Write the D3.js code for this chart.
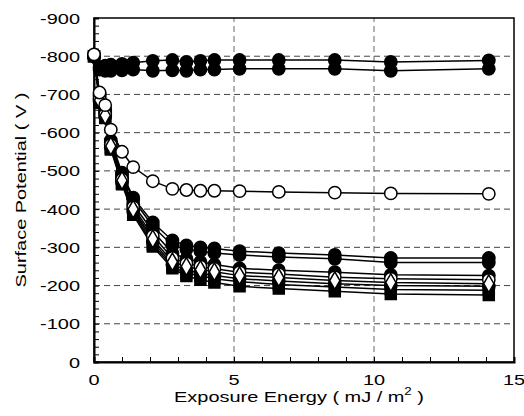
<!DOCTYPE html>
<html>
<head>
<meta charset="utf-8">
<script src="https://cdn.jsdelivr.net/npm/d3@7"></script>
<style>
body { margin: 0; background: #fff; }
text { font-family: "Liberation Sans", Arial, sans-serif; }
</style>
</head>
<body>
<svg id="chart"></svg>
<script>
// exposure energy (mJ/m2), shared by all series
var energy = [0, 0.2, 0.4, 0.6, 1.0, 1.4, 2.1, 2.8, 3.3, 3.8, 4.3, 5.2, 6.6, 8.6, 10.6, 14.1];

var seriesTopA = [-800, -772, -775, -778, -780, -783, -788, -790, -785, -788, -790, -790, -790, -790, -785, -789];
var seriesTopB = [-800, -765, -762, -762, -763, -765, -762, -763, -762, -765, -765, -767, -767, -767, -762, -767];
var seriesOpen = [-805, -705, -672, -608, -550, -510, -473, -453, -450, -448, -448, -447, -445, -443, -441, -440];
var seriesC1 = [-800, -700, -660, -580, -495, -430, -365, -318, -305, -300, -297, -290, -285, -280, -272, -272];
var seriesC2 = [-800, -695, -655, -575, -490, -425, -355, -305, -295, -290, -285, -280, -275, -270, -260, -260];
var seriesC3 = [-800, -690, -650, -570, -482, -412, -342, -285, -270, -262, -255, -245, -240, -235, -228, -226];
var seriesC4 = [-800, -688, -648, -568, -478, -405, -330, -272, -258, -250, -244, -235, -230, -222, -218, -215];
var seriesC5 = [-800, -685, -645, -565, -475, -400, -322, -262, -250, -242, -236, -226, -221, -213, -208, -205];
var seriesC6 = [-800, -682, -642, -562, -470, -395, -315, -255, -240, -233, -226, -218, -212, -205, -200, -198];
var seriesC7 = [-800, -680, -640, -560, -468, -390, -308, -250, -232, -225, -218, -210, -203, -196, -190, -188];
var seriesC8 = [-800, -678, -638, -556, -465, -385, -302, -245, -225, -215, -208, -198, -192, -185, -178, -175];

var xTicks = [0, 5, 10, 15];
var yTicks = [0, -100, -200, -300, -400, -500, -600, -700, -800, -900];

// drawing order: bottom markers first
var seriesList = [
    {values: seriesC8, marker: "square", fill: "black"},
    {values: seriesC7, marker: "square", fill: "black"},
    {values: seriesC6, marker: "circle", fill: "black"},
    {values: seriesC3, marker: "circle", fill: "black"},
    {values: seriesC2, marker: "circle", fill: "black"},
    {values: seriesC1, marker: "circle", fill: "black"},
    {values: seriesC4, marker: "circle", fill: "white"},
    {values: seriesC5, marker: "diamond", fill: "white"},
    {values: seriesTopB, marker: "circle", fill: "black"},
    {values: seriesTopA, marker: "circle", fill: "black"},
    {values: seriesOpen, marker: "circle", fill: "white"}
];

var width = 524;
var height = 416;
var margin = {left: 94, right: 10, top: 18, bottom: 54};
var stretch = 1.33;   // the original text is drawn wider than Arial

var svg = d3.select("#chart")
    .attr("width", width)
    .attr("height", height);

var xScale = d3.scaleLinear()
    .domain([0, 15])
    .range([margin.left, width - margin.right]);
var yScale = d3.scaleLinear()
    .domain([0, -900])
    .range([height - margin.bottom, margin.top]);

// grid
svg.selectAll(".hgrid")
    .data(yTicks.filter(function(d) { return d != 0 && d != -900; }))
    .enter()
    .append("line")
    .attr("x1", xScale(0))
    .attr("x2", xScale(15))
    .attr("y1", function(d) { return yScale(d); })
    .attr("y2", function(d) { return yScale(d); })
    .attr("stroke", "#444")
    .attr("stroke-dasharray", "6,4");
svg.selectAll(".vgrid")
    .data([5, 10])
    .enter()
    .append("line")
    .attr("x1", function(d) { return xScale(d); })
    .attr("x2", function(d) { return xScale(d); })
    .attr("y1", yScale(0))
    .attr("y2", yScale(-900))
    .attr("stroke", "#666")
    .attr("stroke-dasharray", "6,4");

// frame
svg.append("rect")
    .attr("x", xScale(0))
    .attr("y", yScale(-900))
    .attr("width", xScale(15) - xScale(0))
    .attr("height", yScale(0) - yScale(-900))
    .attr("fill", "none")
    .attr("stroke", "black")
    .attr("stroke-width", 1.5);

// axes with inner ticks
var yAxis = d3.axisLeft(yScale)
    .tickValues(d3.range(0, -901, -20))
    .tickSize(-5)
    .tickFormat("");
svg.append("g")
    .attr("transform", "translate(" + xScale(0) + ",0)")
    .call(yAxis)
    .call(function(g) { g.select(".domain").attr("stroke-width", 2); });

var xAxis = d3.axisBottom(xScale)
    .tickValues(d3.range(0, 15.1, 1))
    .tickSize(-5)
    .tickFormat("");
svg.append("g")
    .attr("transform", "translate(0," + yScale(0) + ")")
    .call(xAxis)
    .call(function(g) { g.select(".domain").attr("stroke-width", 2); });

// tick labels
svg.selectAll(".ylab")
    .data(yTicks)
    .enter()
    .append("text")
    .attr("transform", function(d) { return "translate(80," + (yScale(d) + 5.5) + ") scale(" + stretch + ",1)"; })
    .attr("text-anchor", "end")
    .attr("font-size", 15)
    .text(function(d) { return String(d); });

svg.selectAll(".xlab")
    .data(xTicks)
    .enter()
    .append("text")
    .attr("transform", function(d) { return "translate(" + xScale(d) + "," + (yScale(0) + 23) + ") scale(" + stretch + ",1)"; })
    .attr("text-anchor", "middle")
    .attr("font-size", 15)
    .text(function(d) { return d; });

var xTitle = svg.append("text")
    .attr("transform", "translate(299,402) scale(" + stretch + ",1)")
    .attr("text-anchor", "middle")
    .attr("font-size", 15);
xTitle.append("tspan").text("Exposure Energy ( mJ / m");
xTitle.append("tspan").attr("dy", -7).attr("font-size", 10).text("2");
xTitle.append("tspan").attr("dy", 7).text(" )");

svg.append("text")
    .attr("transform", "translate(26," + yScale(-450) + ") rotate(-90) scale(" + stretch + ",1)")
    .attr("text-anchor", "middle")
    .attr("font-size", 15)
    .text("Surface Potential ( V )");

// lines
var line = d3.line()
    .x(function(d, i) { return xScale(energy[i]); })
    .y(function(d) { return yScale(d); });

svg.selectAll(".series")
    .data(seriesList)
    .enter()
    .append("path")
    .attr("d", function(s) { return line(s.values); })
    .attr("fill", "none")
    .attr("stroke", "black")
    .attr("stroke-width", 1.5);

// markers
var symbolFor = function(name)
{
    if (name == "square") { return d3.symbolSquare; }
    if (name == "diamond") { return d3.symbolDiamond; }
    return d3.symbolCircle;
}

seriesList.forEach(function(s)
{
    svg.append("g")
        .selectAll("path")
        .data(s.values)
        .enter()
        .append("path")
        .attr("transform", function(d, i) { return "translate(" + xScale(energy[i]) + "," + yScale(d) + ")"; })
        .attr("d", d3.symbol().type(symbolFor(s.marker)).size(s.marker == "diamond" ? 90 : 120))
        .attr("fill", s.fill)
        .attr("stroke", "black")
        .attr("stroke-width", 1.5);
});
</script>
</body>
</html>
